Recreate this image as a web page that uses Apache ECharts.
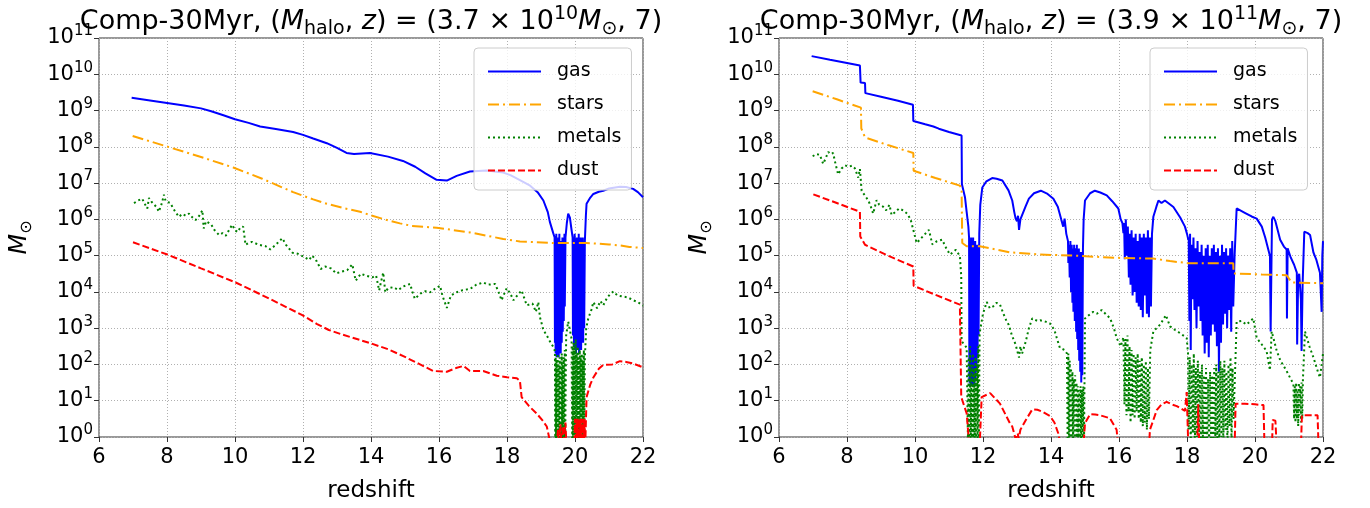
<!DOCTYPE html>
<html><head><meta charset="utf-8">
<script src="https://cdn.jsdelivr.net/npm/echarts@6/dist/echarts.min.js"></script>
<style>html,body{margin:0;padding:0;background:#fff}#c{width:1370px;height:508px}</style>
</head><body><div id="c"></div>
<script>
// x ticks (redshift) and y decades
const xTicks = [6, 8, 10, 12, 14, 16, 18, 20, 22];
const yDecades = [0,1,2,3,4,5,6,7,8,9,10,11];
const seriesNames = ['gas', 'stars', 'metals', 'dust'];
const titleLeft = {halo: '3.7', exp: '10'};
const titleRight = {halo: '3.9', exp: '11'};

// each pair: [redshift, log10(M / Msun)]
const gasLeft = [[6.96,9.35],[7.5,9.28],[8.0,9.21],[8.5,9.14],[9.0,9.06],[9.3,8.98],[9.66,8.87],[10.0,8.76],[10.4,8.66],[10.74,8.56],[11.2,8.49],[11.71,8.41],[12.0,8.33],[12.3,8.23],[12.7,8.10],[13.0,7.97],[13.28,7.83],[13.5,7.80],[13.97,7.83],[14.5,7.73],[14.94,7.61],[15.3,7.45],[15.6,7.27],[15.93,7.09],[16.23,7.07],[16.52,7.20],[16.91,7.32],[17.4,7.35],[17.89,7.29],[18.1,7.22],[18.38,7.08],[18.68,6.93],[18.9,6.75],[19.07,6.52],[19.2,6.2],[19.26,5.93],[19.36,5.62],
[19.40,5.5],[19.41,2.6],[19.42,5.4],[19.43,2.3],[19.45,5.6],[19.46,2.2],[19.48,5.3],[19.49,2.4],[19.51,5.5],[19.52,2.2],[19.54,5.6],[19.55,2.5],[19.57,5.2],[19.58,2.3],[19.60,5.4],[19.61,2.6],[19.63,5.5],[19.64,2.9],[19.66,5.3],[19.67,3.2],[19.69,5.6],[19.70,3.6],[19.72,5.5],
[19.76,5.9],[19.80,6.16],[19.85,6.05],[19.9,5.7],
[19.93,5.5],[19.94,2.8],[19.96,5.4],[19.97,2.5],[19.99,5.6],[20.00,2.4],[20.02,5.3],[20.03,2.3],[20.05,5.5],[20.06,2.6],[20.08,5.4],[20.09,2.4],[20.11,5.6],[20.12,2.3],[20.14,5.2],[20.15,2.5],[20.17,5.5],[20.18,2.4],[20.20,5.3],[20.21,2.7],[20.23,5.5],[20.24,2.6],[20.26,5.2],[20.27,3.0],[20.29,5.4],
[20.32,6.1],[20.34,6.43],[20.45,6.6],[20.54,6.70],[20.7,6.76],[20.83,6.79],[21.0,6.85],[21.32,6.90],[21.5,6.89],[21.71,6.84],[21.85,6.75],[22.0,6.61]];

const starsLeft = [[6.99,8.30],[7.99,8.01],[9.0,7.72],[9.95,7.43],[10.8,7.12],[11.71,6.75],[12.3,6.55],[12.7,6.43],[13.2,6.31],[13.68,6.21],[13.97,6.12],[14.4,6.0],[14.85,5.89],[15.2,5.82],[15.93,5.77],[16.91,5.64],[17.4,5.55],[17.89,5.46],[18.38,5.39],[19.36,5.35],[20.34,5.35],[21.0,5.31],[21.32,5.28],[21.6,5.24],[22.0,5.21]];

const metalsLeft = [[7.03,6.45],[7.15,6.52],[7.27,6.57],[7.35,6.42],[7.42,6.30],[7.47,6.59],[7.55,6.48],[7.6,6.45],[7.7,6.33],[7.76,6.21],[7.85,6.45],[7.91,6.68],[7.96,6.50],[8.01,6.54],[8.1,6.45],[8.16,6.34],[8.25,6.2],[8.35,6.07],[8.45,6.15],[8.55,6.10],[8.65,6.16],[8.75,6.05],[8.84,5.98],[8.95,6.1],[9.04,6.25],[9.08,5.75],[9.15,5.95],[9.3,5.86],[9.4,5.7],[9.53,5.57],[9.63,5.62],[9.73,5.55],[9.85,5.75],[9.92,5.85],[10.0,5.7],[10.08,5.65],[10.16,5.78],[10.24,5.80],[10.31,5.30],[10.4,5.35],[10.5,5.38],[10.7,5.30],[10.9,5.26],[11.04,5.17],[11.2,5.30],[11.39,5.48],[11.5,5.30],[11.69,5.08],[11.85,5.05],[12.08,4.94],[12.18,4.88],[12.27,5.0],[12.4,4.85],[12.52,4.63],[12.65,4.70],[12.82,4.65],[12.98,4.51],[13.1,4.55],[13.3,4.6],[13.45,4.76],[13.55,4.31],[13.7,4.5],[13.85,4.45],[14.04,4.40],[14.15,4.45],[14.24,4.04],[14.3,4.3],[14.36,4.53],[14.42,3.99],[14.5,4.1],[14.66,4.13],[14.8,4.05],[14.95,4.15],[15.15,4.22],[15.22,4.0],[15.29,3.81],[15.45,3.95],[15.6,4.02],[15.74,3.99],[15.9,4.1],[16.03,4.17],[16.1,3.9],[16.23,3.56],[16.35,3.9],[16.52,3.99],[16.7,4.05],[16.91,4.08],[17.1,4.2],[17.30,4.26],[17.45,4.2],[17.65,4.22],[17.75,4.0],[17.84,3.77],[17.92,3.95],[17.99,4.10],[18.1,3.95],[18.19,3.77],[18.3,3.9],[18.43,4.04],[18.5,3.85],[18.58,3.63],[18.75,3.68],[18.85,3.45],[18.92,3.72],[18.97,3.3],[19.07,2.95],[19.17,2.8],[19.26,2.64],[19.35,2.5],[19.41,2.37],
[19.42,-0.3],[19.43,2.2],[19.44,-0.3],[19.46,2.1],[19.47,-0.3],[19.49,2.3],[19.50,-0.3],[19.52,2.0],[19.53,-0.3],[19.55,2.2],[19.56,-0.3],[19.58,1.9],[19.59,-0.3],[19.61,2.3],[19.62,-0.3],[19.64,2.0],[19.65,-0.3],[19.67,2.2],[19.68,-0.3],[19.70,2.4],[19.71,-0.3],
[19.74,2.8],[19.80,3.18],[19.86,2.9],[19.9,2.7],
[19.92,-0.3],[19.93,2.5],[19.94,-0.3],[19.96,2.6],[19.97,-0.3],[19.99,2.4],[20.00,-0.3],[20.02,2.7],[20.03,-0.3],[20.05,2.3],[20.06,-0.3],[20.08,2.5],[20.09,-0.3],[20.11,2.2],[20.12,-0.3],[20.14,2.4],[20.15,-0.3],[20.17,2.2],[20.18,-0.3],[20.20,2.3],[20.21,-0.3],[20.23,2.1],[20.24,-0.3],[20.26,2.4],[20.27,-0.3],[20.29,2.2],
[20.33,3.0],[20.39,3.27],[20.48,3.5],[20.54,3.72],[20.65,3.55],[20.75,3.75],[20.83,3.63],[20.95,3.85],[21.05,3.95],[21.13,4.01],[21.25,3.9],[21.42,3.87],[21.55,3.85],[21.71,3.77],[21.85,3.72],[22.0,3.62]];

const dustLeft = [[7.0,5.37],[8.01,5.03],[9.0,4.65],[10.02,4.26],[11.0,3.82],[11.98,3.36],[12.4,3.12],[12.76,2.95],[13.1,2.84],[13.45,2.74],[14.0,2.58],[14.5,2.42],[14.95,2.23],[15.4,2.02],[15.83,1.82],[16.23,1.80],[16.5,1.9],[16.72,1.96],[16.91,1.82],[17.30,1.82],[17.70,1.69],[18.0,1.65],[18.29,1.62],[18.38,1.55],[18.43,1.10],[18.65,0.85],[18.87,0.65],[19.05,0.45],[19.17,0.29],[19.26,-0.1],[19.45,-0.3],
[19.5,0.2],[19.53,-0.2],[19.57,0.35],[19.6,-0.2],[19.65,0.3],[19.68,-0.1],[19.72,0.4],[19.75,-0.3],
[19.98,-0.3],[20.0,0.5],[20.02,-0.3],[20.04,0.5],[20.06,-0.3],[20.08,0.5],[20.10,-0.3],[20.12,0.5],[20.14,-0.3],[20.16,0.5],[20.18,-0.3],[20.20,0.5],[20.22,-0.3],[20.24,0.5],[20.26,-0.3],[20.28,0.5],[20.30,-0.3],
[20.34,1.10],[20.45,1.45],[20.54,1.64],[20.7,1.88],[20.83,1.99],[21.1,2.0],[21.32,2.09],[21.5,2.07],[21.7,2.03],[22.0,1.92]];

const gasRight = [[6.96,10.50],[7.5,10.40],[8.0,10.31],[8.38,10.24],[8.40,9.77],[8.53,9.76],[8.54,9.48],[9.0,9.38],[9.5,9.27],[9.94,9.16],[9.95,8.71],[10.3,8.62],[10.54,8.56],[10.7,8.50],[11.0,8.41],[11.37,8.31],[11.38,6.97],[11.47,6.61],[11.52,6.2],[11.57,5.80],
[11.59,5.5],[11.60,1.5],[11.62,5.4],[11.63,1.4],[11.65,5.5],[11.66,1.5],[11.68,5.3],[11.69,1.4],[11.71,5.5],[11.72,1.6],[11.74,5.3],[11.75,1.4],[11.77,5.4],[11.78,1.6],[11.80,5.2],[11.81,1.8],[11.83,5.3],[11.84,2.2],[11.86,5.1],[11.87,2.8],
[11.89,5.6],[11.92,6.4],[11.98,6.88],[12.1,7.05],[12.27,7.14],[12.4,7.12],[12.57,7.07],[12.75,6.8],[12.86,6.52],[12.92,6.2],[12.96,6.02],[13.0,5.95],[13.03,6.1],[13.06,5.71],[13.1,6.0],[13.15,6.02],[13.25,6.35],[13.35,6.57],[13.5,6.72],[13.70,6.79],[13.9,6.7],[14.07,6.57],[14.2,6.35],[14.3,6.0],[14.36,5.80],[14.4,6.02],[14.45,5.6],
[14.50,5.4],[14.51,4.8],[14.53,5.3],[14.55,4.4],[14.57,5.4],[14.59,4.0],[14.61,5.3],[14.63,3.7],[14.65,5.2],[14.66,3.45],[14.68,5.3],[14.70,3.2],[14.72,5.2],[14.74,2.9],[14.76,5.3],[14.77,2.7],[14.79,5.1],[14.80,2.4],[14.82,5.2],[14.83,2.1],[14.85,5.0],[14.86,1.8],[14.88,5.1],[14.89,1.5],[14.91,5.0],[14.92,1.7],[14.94,5.2],
[14.96,6.0],[15.0,6.52],[15.15,6.72],[15.29,6.79],[15.45,6.74],[15.64,6.66],[15.8,6.5],[15.98,6.30],[16.05,6.0],[16.1,5.9],[16.13,5.62],
[16.15,5.9],[16.17,4.9],[16.2,6.0],[16.23,5.0],[16.26,5.8],[16.29,4.4],[16.31,5.6],[16.34,4.2],[16.37,5.7],[16.40,3.9],[16.43,5.5],[16.46,4.0],[16.49,5.6],[16.52,3.7],[16.55,5.4],[16.58,3.6],[16.61,5.6],[16.64,3.5],[16.67,5.5],[16.70,3.3],[16.73,5.6],[16.76,3.9],[16.79,5.5],[16.82,3.4],[16.85,5.7],[16.88,3.3],[16.91,5.5],[16.94,3.6],[16.97,5.6],
[17.01,6.07],[17.1,6.35],[17.16,6.52],[17.25,6.45],[17.35,6.52],[17.6,6.34],[17.8,6.05],[17.94,5.80],[18.0,5.6],[18.04,5.44],
[18.05,5.5],[18.07,3.2],[18.09,5.6],[18.11,2.4],[18.13,5.3],[18.16,3.8],[18.19,5.5],[18.22,3.5],[18.25,5.2],[18.28,3.0],[18.31,5.4],[18.34,3.6],[18.37,5.1],[18.40,3.2],[18.43,5.3],[18.46,2.8],[18.49,5.0],[18.52,2.3],[18.55,5.2],[18.58,2.6],[18.61,5.3],[18.64,2.2],[18.67,5.0],[18.70,2.8],[18.73,5.2],[18.76,3.1],[18.79,5.3],[18.82,2.9],[18.85,5.1],[18.88,2.5],[18.91,5.2],[18.94,1.8],[18.97,5.0],[19.00,2.6],[19.03,5.3],[19.06,3.1],[19.09,5.1],[19.12,3.4],[19.15,5.2],[19.18,3.0],[19.21,5.0],[19.24,3.5],[19.27,5.2],[19.30,2.9],[19.33,5.4],[19.36,3.6],
[19.40,5.0],[19.46,6.30],[19.7,6.18],[19.9,6.08],[20.05,6.02],[20.2,5.8],[20.3,5.5],[20.44,4.99],[20.46,2.91],[20.50,6.0],[20.54,6.07],[20.6,5.95],[20.74,5.44],[20.85,5.25],[20.93,5.17],[20.94,3.27],[20.96,5.2],[21.05,4.95],[21.15,4.75],[21.23,4.53],[21.24,2.55],[21.27,4.4],[21.3,4.5],[21.35,3.8],[21.37,2.37],[21.40,4.2],[21.45,5.66],[21.55,5.62],[21.62,5.57],[21.72,5.08],[21.8,4.9],[21.91,4.53],[21.96,3.45],[21.98,5.0],[22.0,5.4]];

const starsRight = [[6.99,9.53],[7.7,9.31],[8.41,9.08],[8.42,8.51],[8.53,8.26],[9.2,8.05],[9.95,7.83],[9.96,7.34],[10.6,7.14],[11.32,6.93],[11.37,6.85],[11.39,5.35],[11.52,5.26],[11.9,5.26],[12.79,5.09],[13.68,5.03],[14.66,5.0],[15.93,4.94],[17.0,4.92],[17.5,4.85],[18.04,4.79],[19.36,4.79],[19.37,4.51],[20.2,4.48],[20.93,4.46],[21.08,4.26],[22.0,4.24]];

const metalsRight = [[6.99,7.74],[7.1,7.80],[7.2,7.78],[7.30,7.53],[7.38,7.70],[7.45,7.86],[7.52,7.80],[7.59,7.83],[7.67,7.5],[7.74,7.24],[7.84,7.40],[7.94,7.49],[8.05,7.45],[8.15,7.48],[8.23,7.41],[8.33,7.15],[8.38,7.39],[8.43,6.79],[8.53,6.65],[8.63,6.52],[8.70,6.35],[8.77,6.16],[8.87,6.53],[8.95,6.40],[9.06,6.35],[9.15,6.25],[9.25,6.4],[9.31,6.12],[9.42,6.2],[9.53,6.30],[9.65,6.25],[9.77,6.16],[9.87,6.0],[9.95,5.71],[10.05,5.35],[10.15,5.45],[10.3,5.6],[10.41,5.71],[10.51,5.31],[10.65,5.4],[10.8,5.44],[10.92,5.2],[11.03,5.03],[11.12,5.1],[11.2,5.16],[11.32,4.99],[11.36,4.44],[11.37,2.64],[11.45,2.55],[11.52,2.46],
[11.56,-0.3],[11.58,2.2],[11.60,-0.3],[11.62,2.5],[11.64,-0.3],[11.66,2.0],[11.68,-0.3],[11.70,2.3],[11.72,-0.3],[11.74,1.9],[11.76,-0.3],[11.78,2.2],[11.80,-0.3],[11.82,2.0],[11.84,-0.3],[11.86,2.5],[11.88,-0.3],[11.90,2.8],
[11.91,2.91],[12.0,3.4],[12.11,3.72],[12.2,3.55],[12.3,3.6],[12.4,3.7],[12.5,3.65],[12.6,3.4],[12.7,3.18],[12.76,3.09],[12.85,2.8],[12.96,2.55],[13.0,2.4],[13.06,2.19],[13.1,2.5],[13.15,2.3],[13.26,2.64],[13.35,3.0],[13.45,3.27],[13.6,3.2],[13.68,3.22],[13.84,3.18],[13.97,3.13],[14.1,2.95],[14.17,2.73],[14.26,2.46],[14.4,2.4],[14.47,2.3],
[14.49,-0.3],[14.51,2.3],[14.53,-0.3],[14.55,2.1],[14.57,-0.3],[14.59,1.9],[14.61,-0.3],[14.63,1.8],[14.65,-0.3],[14.67,1.6],[14.69,-0.3],[14.71,1.7],[14.73,-0.3],[14.75,1.5],[14.77,-0.3],[14.79,1.4],[14.81,-0.3],[14.83,1.3],[14.85,-0.3],[14.87,1.4],[14.89,-0.3],[14.91,1.3],[14.93,-0.3],[14.95,1.4],[14.97,-0.3],
[15.0,3.27],[15.1,3.35],[15.24,3.45],[15.35,3.4],[15.49,3.50],[15.6,3.4],[15.74,3.27],[15.85,3.0],[15.93,2.73],[16.05,2.5],[16.13,2.75],
[16.16,0.9],[16.19,2.7],[16.22,0.6],[16.25,2.8],[16.28,0.7],[16.31,2.5],[16.34,0.4],[16.37,2.4],[16.40,0.6],[16.43,2.3],[16.46,0.5],[16.49,2.2],[16.52,0.7],[16.55,2.3],[16.58,0.5],[16.61,2.1],[16.64,0.4],[16.67,2.2],[16.70,0.3],[16.73,2.0],[16.76,0.4],[16.79,2.1],[16.82,0.2],[16.85,1.9],[16.88,0.5],[16.92,2.4],
[17.01,2.91],[17.21,3.1],[17.38,3.36],[17.5,3.05],[17.65,2.95],[17.8,2.86],[17.99,2.73],[18.03,2.3],
[18.05,0.2],[18.08,2.2],[18.11,-0.3],[18.14,2.0],[18.17,0.1],[18.20,2.3],[18.23,-0.3],[18.26,1.9],[18.29,0.0],[18.32,2.1],[18.35,-0.3],[18.38,1.8],[18.41,-0.3],[18.44,2.0],[18.47,-0.2],[18.50,1.7],[18.53,-0.3],[18.56,1.9],[18.59,-0.3],[18.62,1.6],[18.65,-0.3],[18.68,1.8],[18.71,-0.3],[18.74,1.7],[18.77,-0.3],[18.80,1.9],[18.83,-0.2],[18.86,2.0],[18.89,-0.3],[18.92,1.8],[18.95,-0.3],[18.98,2.1],[19.01,0.0],[19.04,1.9],[19.07,-0.3],[19.10,2.1],[19.13,0.2],[19.16,1.8],[19.19,-0.3],[19.22,2.0],[19.25,0.3],[19.28,2.2],[19.31,-0.3],[19.34,1.9],[19.37,0.5],
[19.46,3.18],[19.6,3.2],[19.75,3.1],[19.95,3.27],[20.05,2.73],[20.2,2.55],[20.34,2.37],[20.44,1.84],[20.49,2.91],[20.55,2.7],[20.64,2.37],[20.75,2.1],[20.93,1.82],[21.05,1.6],[21.13,1.46],
[21.15,0.5],[21.17,1.4],[21.19,0.4],[21.21,1.5],[21.23,0.5],[21.25,1.3],[21.27,0.3],[21.29,1.5],[21.31,0.6],[21.33,1.4],[21.35,0.4],[21.37,1.5],[21.39,0.5],[21.41,1.6],
[21.47,2.91],[21.6,2.5],[21.72,2.19],[21.85,1.8],[21.91,1.64],[21.96,2.0],[22.0,2.3]];

const dustRight = [[7.01,6.69],[7.7,6.45],[8.38,6.21],[8.39,5.53],[8.53,5.30],[9.2,5.0],[9.95,4.70],[9.96,4.17],[10.6,3.92],[11.32,3.65],[11.36,1.10],[11.52,0.65],[11.6,-0.3],
[11.9,-0.3],[11.96,1.10],[12.21,1.21],[12.5,0.92],[12.79,0.38],[12.86,0.29],[12.96,-0.05],[13.02,0.1],[13.05,-0.05],[13.1,0.2],[13.26,0.47],[13.45,0.76],[13.6,0.75],[13.74,0.7],[13.97,0.58],[14.1,0.4],[14.21,0.11],[14.3,-0.3],
[14.95,-0.3],[15.0,0.38],[15.15,0.63],[15.3,0.62],[15.44,0.6],[15.73,0.52],[15.93,0.2],[15.98,-0.3],
[16.88,-0.3],[16.91,0.2],[17.11,0.74],[17.25,0.9],[17.40,0.97],[17.55,0.9],[17.7,0.85],[17.94,0.72],[17.99,1.24],[18.02,1.24],[18.04,-0.3],
[18.3,-0.3],[18.33,0.9],[18.36,-0.3],
[19.40,-0.3],[19.43,0.92],[19.7,0.92],[20.0,0.90],[20.25,0.88],[20.28,-0.3],
[20.5,-0.3],[20.52,0.47],[20.6,0.45],[20.64,-0.3],
[21.35,-0.3],[21.38,0.6],[21.6,0.6],[21.84,0.6],[21.87,-0.3],[22.0,-0.3]];

const FONT = 'DejaVu Sans';
const toMass = arr => arr.map(p => [p[0], Math.pow(10, p[1])]);

const styles = {
  gas:    {color: '#0000ff', type: 'solid'},
  stars:  {color: '#ffa500', type: [11, 4, 2, 4]},
  metals: {color: '#008000', type: [2, 3]},
  dust:   {color: '#ff0000', type: [7, 3]}
};

const grids = [
  {left: 99, top: 38, width: 544, height: 406},
  {left: 779, top: 38, width: 544, height: 406}
];

function xAxis(i) {
  return {
    gridIndex: i, type: 'value', min: 6, max: 22, interval: 2,
    name: 'redshift', nameLocation: 'middle', nameGap: 43,
    nameTextStyle: {fontFamily: FONT, fontSize: 23, color: '#000'},
    axisLine: {show: false},
    axisTick: {show: true, inside: false, length: 5, lineStyle: {color: '#333'}},
    axisLabel: {fontFamily: FONT, fontSize: 21, color: '#000', margin: 10,
      formatter: v => xTicks.includes(v) ? String(v) : ''},
    splitLine: {show: true, lineStyle: {color: '#b0b0b0', type: [1, 2], width: 1}}
  };
}
function yAxis(i) {
  return {
    gridIndex: i, type: 'log', logBase: 10, min: 1, max: 1e11, interval: 1,
    name: '{m|M}{s|⊙}', nameLocation: 'middle', nameGap: 64, nameRotate: 90,
    nameTextStyle: {rich: {
      m: {fontFamily: FONT, fontSize: 24, fontStyle: 'italic', color: '#000', lineHeight: 30},
      s: {fontFamily: FONT, fontSize: 16, color: '#000', lineHeight: 14, verticalAlign: 'bottom'}
    }},
    axisLine: {show: false},
    axisTick: {show: true, inside: false, length: 5, lineStyle: {color: '#333'}},
    axisLabel: {margin: 6, formatter: v => {
        const e = Math.round(Math.log10(v));
        return yDecades.includes(e) ? '{b|10}{s|' + e + '}' : '';
      },
      rich: {
        b: {fontFamily: FONT, fontSize: 21, color: '#000', lineHeight: 28},
        s: {fontFamily: FONT, fontSize: 15, color: '#000', lineHeight: 17, verticalAlign: 'top'}
      }},
    splitLine: {show: true, lineStyle: {color: '#b0b0b0', type: [1, 2], width: 1}}
  };
}

function mk(name, data, i) {
  const st = styles[name];
  return {
    name, type: 'line', xAxisIndex: i, yAxisIndex: i, data: toMass(data),
    showSymbol: false, symbol: 'none', clip: true, animation: false,
    lineStyle: {color: st.color, width: 2, type: st.type},
    itemStyle: {color: st.color}
  };
}

function legend(left) {
  return {
    data: seriesNames, orient: 'vertical', left, top: 48,
    itemWidth: 53, itemHeight: 14, itemGap: 14,
    padding: [14, 10, 10, 13],
    backgroundColor: 'rgba(255,255,255,0.8)', borderColor: '#cccccc', borderWidth: 1, borderRadius: 4,
    itemStyle: {opacity: 0},
    textStyle: {fontFamily: FONT, fontSize: 19, color: '#000', padding: [0, 0, 0, 11]},
    selectedMode: false
  };
}

const titleRich = {
  n: {fontFamily: FONT, fontSize: 27, fill: '#000', lineHeight: 34},
  i: {fontFamily: FONT, fontSize: 27, fontStyle: 'italic', fill: '#000', lineHeight: 34},
  sub: {fontFamily: FONT, fontSize: 19, fill: '#000', lineHeight: 13, verticalAlign: 'bottom'},
  sup: {fontFamily: FONT, fontSize: 19, fill: '#000', lineHeight: 20, verticalAlign: 'top'}
};
function titleText(t) {
  return '{n|Comp-30Myr, (}{i|M}{sub|halo}{n|, }{i|z}{n|) = (' + t.halo + ' × 10}{sup|' + t.exp + '}{i|M}{sub|⊙}{n|, 7)}';
}

const chart = echarts.init(document.getElementById('c'), null, {renderer: 'canvas'});
chart.setOption({
  backgroundColor: '#fff',
  animation: false,
  grid: grids.map(g => Object.assign({show: true, borderColor: '#333', borderWidth: 1, backgroundColor: 'transparent'}, g)),
  xAxis: [xAxis(0), xAxis(1)],
  yAxis: [yAxis(0), yAxis(1)],
  legend: [legend(474), legend(1150)],
  series: [
    mk('gas', gasLeft, 0), mk('stars', starsLeft, 0), mk('metals', metalsLeft, 0), mk('dust', dustLeft, 0),
    mk('gas', gasRight, 1), mk('stars', starsRight, 1), mk('metals', metalsRight, 1), mk('dust', dustRight, 1)
  ],
  graphic: [
    {type: 'text', x: 371, y: 22, style: {text: titleText(titleLeft), rich: titleRich, align: 'center', verticalAlign: 'middle', fontFamily: FONT, fontSize: 27, fill: '#000'}},
    {type: 'text', x: 1051, y: 22, style: {text: titleText(titleRight), rich: titleRich, align: 'center', verticalAlign: 'middle', fontFamily: FONT, fontSize: 27, fill: '#000'}}
  ]
});
</script></body></html>
